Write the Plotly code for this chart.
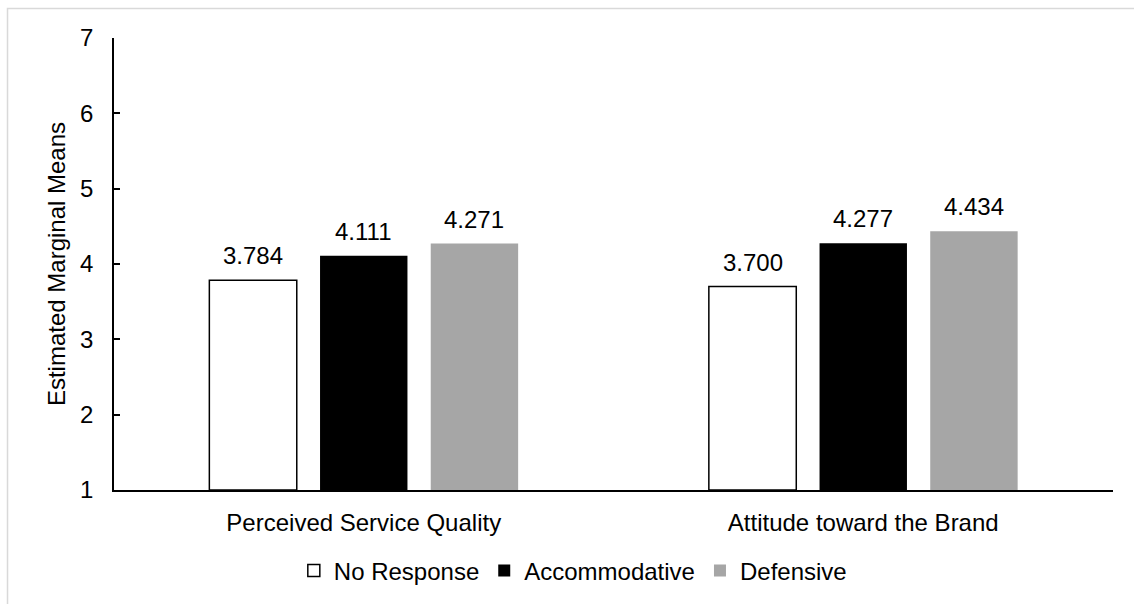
import plotly.graph_objects as go

# Estimated marginal means by response type
categories = ["Perceived Service Quality", "Attitude toward the Brand"]
series_names = ["No Response", "Accommodative", "Defensive"]
no_response = [3.784, 3.700]
accommodative = [4.111, 4.277]
defensive = [4.271, 4.434]
y_ticks = [1, 2, 3, 4, 5, 6, 7]

series_values = [no_response, accommodative, defensive]
fills = ["#FFFFFF", "#000000", "#A6A6A6"]
outlines = [1.5, 0, 0]

FONT = "Liberation Sans, Arial, sans-serif"
FS = 24
BAR_W = 0.175      # bar width in category units
BAR_STEP = 0.2216  # centre-to-centre spacing of bars inside a group

x_pos = list(range(len(categories)))

fig = go.Figure()
for k, (name, vals) in enumerate(zip(series_names, series_values)):
    centre_off = (k - 1) * BAR_STEP
    fig.add_trace(go.Bar(
        name=name,
        x=x_pos,
        y=[v - y_ticks[0] for v in vals],
        base=y_ticks[0],
        width=BAR_W,
        offset=centre_off - BAR_W / 2,
        marker=dict(color=fills[k], line=dict(color="#000000", width=outlines[k])),
        hoverinfo="skip",
    ))
    for i, v in enumerate(vals):
        fig.add_annotation(
            x=x_pos[i] + centre_off, y=v, xref="x", yref="y",
            text=f"{v:.3f}", showarrow=False,
            yanchor="bottom", yshift=9,
            font=dict(family=FONT, size=FS, color="#000000"),
        )

# y-axis title
fig.add_annotation(
    text="Estimated Marginal Means", textangle=-90,
    xref="paper", yref="paper", x=-0.058, y=0.5,
    xanchor="center", yanchor="middle", showarrow=False,
    font=dict(family=FONT, size=FS, color="#000000"),
)

# light frame around the chart
fig.add_shape(
    type="rect", xref="paper", yref="paper",
    x0=-0.1066, x1=1.05, y0=-0.3, y1=1.0655,
    line=dict(color="#D9D9D9", width=1.5), fillcolor="rgba(0,0,0,0)",
    layer="below",
)

fig.update_layout(
    width=1134, height=604,
    margin=dict(l=114, r=21, t=38, b=113),
    paper_bgcolor="#FFFFFF", plot_bgcolor="#FFFFFF",
    barmode="overlay",
    font=dict(family=FONT, size=FS, color="#000000"),
    showlegend=True,
    legend=dict(
        orientation="h", x=0.18, xanchor="left", y=-0.1766, yanchor="middle",
        font=dict(family=FONT, size=FS, color="#000000"),
        bgcolor="rgba(0,0,0,0)", itemclick=False, itemdoubleclick=False,
    ),
    xaxis=dict(
        range=[-0.5, len(categories) - 0.5],
        tickvals=x_pos, ticktext=categories,
        showline=True, linecolor="#000000", linewidth=1.5,
        showgrid=False, zeroline=False, ticks="",
        ticklabelstandoff=10,
        tickfont=dict(family=FONT, size=FS, color="#000000"),
    ),
    yaxis=dict(
        range=[y_ticks[0], y_ticks[-1]], tickvals=y_ticks,
        showline=True, linecolor="#000000", linewidth=1.5,
        showgrid=False, zeroline=False,
        ticks="inside", ticklen=6, tickwidth=1.5, tickcolor="#000000",
        ticklabelstandoff=14,
        tickfont=dict(family=FONT, size=FS, color="#000000"),
    ),
)

fig.write_html("out.html")
